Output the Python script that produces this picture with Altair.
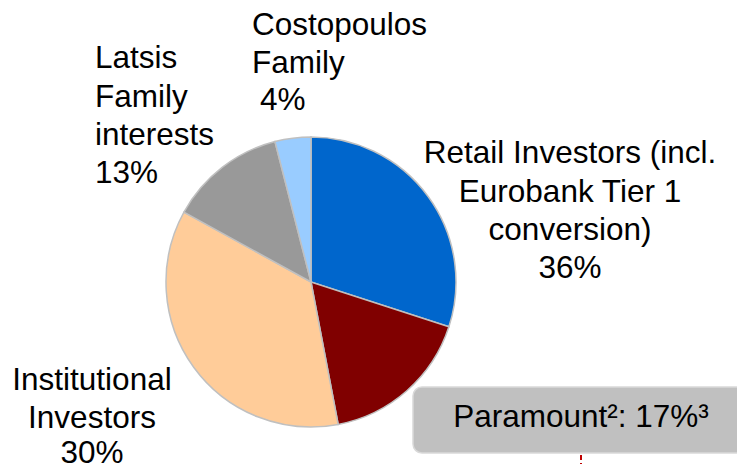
import altair as alt
import pandas as pd

# Slices as drawn, clockwise from 12 o'clock
slice_names = ["Retail Investors", "Paramount", "Institutional Investors", "Latsis Family interests", "Costopoulos Family"]
slice_shares = [30, 17, 36, 13, 4]
slice_colors = ["#0066CC", "#800000", "#FFCC99", "#999999", "#99CCFF"]

# Label text lines
label_lines = [
    "Latsis", "Family", "interests", "13%",
    "Costopoulos", "Family", "4%",
    "Retail Investors (incl.", "Eurobank Tier 1", "conversion)", "36%",
    "Institutional", "Investors", "30%",
]
box_text = "Paramount\u00b2: 17%\u00b3"

# layout (pixel positions of each line's anchor)
label_x = [87, 87, 87, 87, 244, 244, 252, 562, 562, 562, 562, 84, 84, 84]
label_y = [60, 99, 137, 175, 27, 65, 102, 155, 194, 232, 270, 382, 420, 455]
label_align = ["left"] * 7 + ["center"] * 7

FONT = "Liberation Sans"
FS = 31.5

pie_df = pd.DataFrame({"name": slice_names, "share": slice_shares, "idx": list(range(len(slice_names)))})
lab_df = pd.DataFrame({"text": label_lines, "x": label_x, "y": label_y, "align": label_align})

pie = alt.Chart(pie_df).mark_arc(outerRadius=145, stroke="#C0C0C0", strokeWidth=1.5).encode(
    theta=alt.Theta("share:Q", stack=True),
    order=alt.Order("idx:Q"),
    color=alt.Color("name:N", scale=alt.Scale(domain=slice_names, range=slice_colors), legend=None),
    x=alt.value(303),
    y=alt.value(274),
)

left_lab = alt.Chart(lab_df[lab_df["align"] == "left"]).mark_text(
    font=FONT, fontSize=FS, align="left", baseline="alphabetic", color="black"
).encode(
    x=alt.X("x:Q", scale=None), y=alt.Y("y:Q", scale=None), text="text:N"
)
center_lab = alt.Chart(lab_df[lab_df["align"] == "center"]).mark_text(
    font=FONT, fontSize=FS, align="center", baseline="alphabetic", color="black"
).encode(
    x=alt.X("x:Q", scale=None), y=alt.Y("y:Q", scale=None), text="text:N"
)

box_df = pd.DataFrame({"text": [box_text]})
box = alt.Chart(box_df).mark_rect(
    fill="#C0C0C0", stroke="#D9D9D9", strokeWidth=1.5, cornerRadius=9
).encode(
    x=alt.value(405), x2=alt.value(737), y=alt.value(379), y2=alt.value(445)
)
box_txt = alt.Chart(box_df).mark_text(
    font=FONT, fontSize=FS, align="center", baseline="alphabetic", color="black"
).encode(
    x=alt.value(573), y=alt.value(419), text="text:N"
)
dash = alt.Chart(box_df).mark_rule(color="#C00000", strokeWidth=2, strokeDash=[5, 3]).encode(
    x=alt.value(573), y=alt.value(447), y2=alt.value(466)
)

chart = alt.layer(pie, left_lab, center_lab, box, box_txt, dash).properties(
    width=729, height=456, padding=0, autosize=alt.AutoSizeParams(type="none")
).configure_view(stroke=None)

chart.save("out.html", embed_options={"renderer": "svg", "actions": False})
